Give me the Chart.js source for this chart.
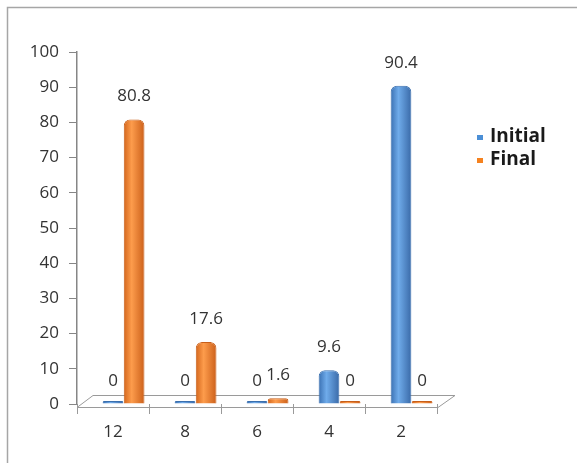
<!DOCTYPE html>
<html>
<head>
<meta charset="utf-8">
<script src="https://cdn.jsdelivr.net/npm/chart.js@4/dist/chart.umd.min.js"></script>
<style>
  html, body { margin: 0; padding: 0; background: #fff; }
  #wrap { position: relative; width: 577px; height: 463px; }
</style>
</head>
<body>
<div id="wrap"><canvas id="chart" width="577" height="463"></canvas></div>
<script>
// Werte aus dem Diagramm
const categories = ["12", "8", "6", "4", "2"];
const initialValues = [0, 0, 0, 9.6, 90.4];
const finalValues = [80.8, 17.6, 1.6, 0, 0];
const yTicks = [0, 10, 20, 30, 40, 50, 60, 70, 80, 90, 100];

const blue = "#4b8fd6";
const orange = "#f5821f";
const CAT_PCT = 0.88;
const BAR_PCT = 0.98;

// Zylinder-Schattierung pro Balken
function cylinder(stops, fallback) {
    return (c) => {
        const chart = c.chart;
        if (!chart.chartArea || c.dataIndex === undefined) return fallback;
        const xs = chart.scales.x;
        const slot = (xs.width / categories.length) * CAT_PCT / 3;
        const cx = xs.getPixelForValue(c.dataIndex) + (c.datasetIndex - 1) * slot;
        const half = slot * BAR_PCT / 2;
        const g = chart.ctx.createLinearGradient(cx - half, 0, cx + half, 0);
        stops.forEach(([p, col]) => g.addColorStop(p, col));
        return g;
    };
}

// Rahmen, Boden und Werte-Beschriftungen
const decorPlugin = {
    id: "decor",
    beforeDraw(chart) {
        const ctx = chart.ctx;
        ctx.save();
        ctx.strokeStyle = "#a6a6a6";
        ctx.lineWidth = 1.5;
        ctx.beginPath();
        ctx.moveTo(7.5, 463);
        ctx.lineTo(7.5, 7.5);
        ctx.lineTo(577, 7.5);
        ctx.stroke();
        ctx.restore();
    },
    beforeDatasetsDraw(chart) {
        const ctx = chart.ctx;
        const a = chart.chartArea;
        ctx.save();
        ctx.strokeStyle = "#9a9a9a";
        ctx.lineWidth = 1;
        ctx.beginPath();
        ctx.moveTo(a.left, a.bottom + 3.5);
        ctx.lineTo(a.left + 16, a.bottom - 8.5);
        ctx.lineTo(a.right + 18, a.bottom - 8.5);
        ctx.lineTo(a.right + 1, a.bottom + 3.5);
        ctx.closePath();
        ctx.stroke();
        ctx.restore();
    },
    afterDatasetsDraw(chart) {
        const ctx = chart.ctx;
        ctx.save();
        ctx.font = "17px 'Open Sans', sans-serif";
        ctx.fillStyle = "#333";
        ctx.textAlign = "center";
        ctx.textBaseline = "middle";
        chart.data.datasets.forEach((ds, di) => {
            if (!ds.label) return;
            const meta = chart.getDatasetMeta(di);
            meta.data.forEach((bar, i) => {
                const yTop = chart.scales.y.getPixelForValue(ds.data[i]);
                ctx.fillText(String(ds.data[i]), bar.x, yTop - 23);
            });
        });
        ctx.restore();
    }
};

new Chart(document.getElementById("chart"), {
    type: "bar",
    data: {
        labels: categories,
        datasets: [
            // leerer Platzhalter, damit die Balkenpaare wie im 3D-Bild nach rechts versetzt sind
            { label: "", data: categories.map(() => null) },
            {
                label: "Initial",
                data: initialValues,
                backgroundColor: cylinder([[0, "#3a70b2"], [0.38, "#6fabea"], [1, "#3a6aa8"]], blue),
                borderColor: "#3a6fae",
                borderWidth: 1,
                borderRadius: { topLeft: 6, topRight: 6 },
                borderSkipped: "bottom",
                minBarLength: 3
            },
            {
                label: "Final",
                data: finalValues,
                backgroundColor: cylinder([[0, "#d4661c"], [0.38, "#fd9c4c"], [1, "#cc601a"]], orange),
                borderColor: "#c85f1a",
                borderWidth: 1,
                borderRadius: { topLeft: 6, topRight: 6 },
                borderSkipped: "bottom",
                minBarLength: 3
            }
        ]
    },
    options: {
        responsive: false,
        animation: false,
        categoryPercentage: CAT_PCT,
        barPercentage: BAR_PCT,
        layout: { padding: { left: 18, right: 140, top: 52, bottom: 0 } },
        plugins: {
            legend: { display: false },
            tooltip: { enabled: false }
        },
        scales: {
            x: {
                afterFit(scale) { scale.height = 59; },
                grid: { display: true, drawOnChartArea: false, tickLength: 10, color: "#9a9a9a", offset: true },
                border: { display: false },
                ticks: { color: "#333", font: { family: "'Open Sans', sans-serif", size: 17 }, padding: 8 }
            },
            y: {
                min: 0,
                max: 100,
                afterFit(scale) { scale.width = 59; },
                afterBuildTicks(scale) { scale.ticks = yTicks.map(v => ({ value: v })); },
                grid: { display: true, drawOnChartArea: false, tickLength: 8, color: "#868686" },
                border: { display: true, color: "#868686", width: 1.5 },
                ticks: { color: "#333", font: { family: "'Open Sans', sans-serif", size: 17 }, padding: 10 }
            }
        }
    },
    plugins: [decorPlugin, {
        id: "legendBox",
        afterDraw(chart) {
            const ctx = chart.ctx;
            const items = [["Initial", blue, 137], ["Final", orange, 160]];
            ctx.save();
            ctx.font = "bold 19px 'Open Sans', sans-serif";
            ctx.textBaseline = "middle";
            ctx.textAlign = "left";
            items.forEach(([txt, col, y]) => {
                ctx.fillStyle = col;
                ctx.fillRect(477, y - 2, 6, 5);
                ctx.fillStyle = "#1a1a1a";
                ctx.fillText(txt, 490, y);
            });
            ctx.restore();
        }
    }]
});
</script>
</body>
</html>
